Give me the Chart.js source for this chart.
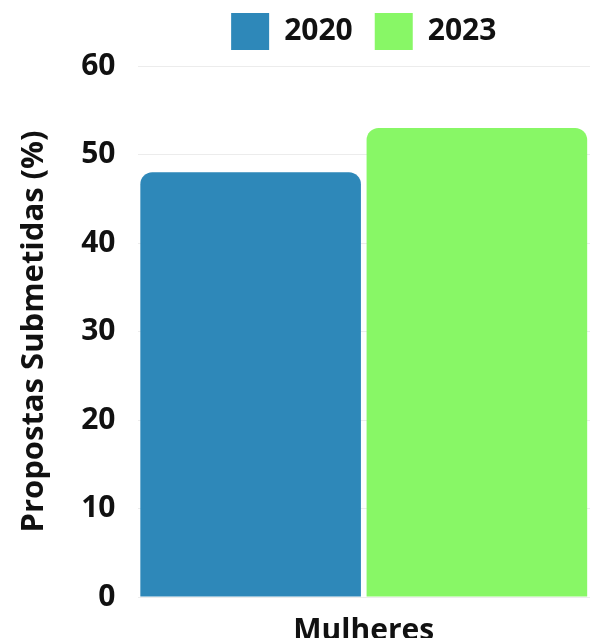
<!DOCTYPE html>
<html>
<head>
<meta charset="utf-8">
<script src="https://cdn.jsdelivr.net/npm/chart.js@4.4.0/dist/chart.umd.min.js"></script>
<style>
  html, body { margin: 0; padding: 0; background: #fff; overflow: hidden; }
  #wrap { width: 590px; height: 638px; overflow: hidden; }
  #box { width: 590px; height: 657px; position: relative; }
</style>
</head>
<body>
<div id="wrap"><div id="box"><canvas id="graph"></canvas></div></div>
<script>
var categories = ["Mulheres"]
var years = ["2020", "2023"]
var values2020 = [48]
var values2023 = [53]
var yTicks = [0, 10, 20, 30, 40, 50, 60]

var font = "'Open Sans', sans-serif"
var big = { family: font, size: 30, weight: "bold" }

var data = {
    labels: categories,
    datasets: [
        { label: years[0], data: values2020, backgroundColor: "#2e88b9", borderRadius: 12, borderSkipped: "bottom" },
        { label: years[1], data: values2023, backgroundColor: "#88f766", borderRadius: 12, borderSkipped: "bottom" }
    ]
}

// push the plot a bit further below the legend
var legendGap = {
    id: "legendGap",
    beforeInit: function (chart) {
        var fit = chart.legend.fit
        chart.legend.fit = function () {
            fit.bind(chart.legend)()
            this.height += 6
        }
    }
}

var options = {
    responsive: true,
    maintainAspectRatio: false,
    animation: false,
    datasets: { bar: { categoryPercentage: 1.0, barPercentage: 0.975 } },
    layout: { padding: { left: 16, right: 0, top: -9, bottom: 0 } },
    plugins: {
        legend: {
            fullSize: false,
            position: "top",
            labels: {
                boxWidth: 38, boxHeight: 37, padding: 22,
                color: "#111",
                font: big
            }
        },
        tooltip: { enabled: false }
    },
    scales: {
        x: {
            grid: { display: false },
            border: { display: false },
            ticks: { color: "#111", font: big, padding: 8 }
        },
        y: {
            min: yTicks[0],
            max: yTicks[yTicks.length - 1],
            grid: { color: "#ececec", lineWidth: 1, drawTicks: false },
            border: { display: false },
            afterBuildTicks: function (axis) {
                axis.ticks = yTicks.map(function (v) { return { value: v } })
            },
            ticks: { color: "#111", padding: 22, font: big },
            title: {
                display: true,
                text: "Propostas Submetidas (%)",
                color: "#111",
                font: { family: font, size: 31, weight: "bold" },
                padding: { top: 0, bottom: 6 }
            }
        }
    }
}

var graph = new Chart(document.getElementById("graph"), { type: "bar", data: data, options: options, plugins: [legendGap] })
</script>
</body>
</html>
